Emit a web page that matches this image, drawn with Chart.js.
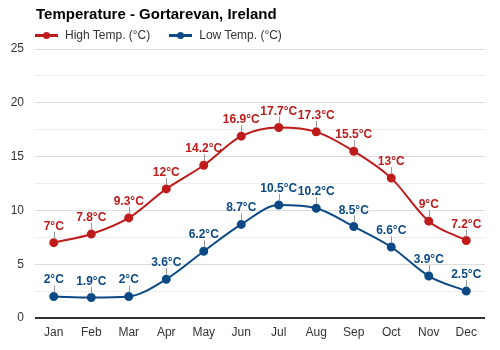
<!DOCTYPE html>
<html>
<head>
<meta charset="utf-8">
<script src="https://cdn.jsdelivr.net/npm/chart.js@4"></script>
<style>
  body { margin: 0; background: #fff; font-family: "Liberation Sans", Arial, sans-serif; }
  #wrap { position: relative; width: 500px; height: 350px; }
  #title { position: absolute; left: 36px; top: 5px; font-size: 15px; font-weight: bold; color: #000; }
  #legend { position: absolute; left: 35px; top: 28px; font-size: 12px; color: #333; display: flex; }
  .item { display: flex; align-items: center; margin-right: 19px; }
  .mark { position: relative; width: 23px; height: 3px; margin-right: 7px; }
  .mark i { position: absolute; left: 8px; top: -2px; width: 7px; height: 7px; border-radius: 50%; }
</style>
</head>
<body>
<div id="wrap">
  <div id="title">Temperature - Gortarevan, Ireland</div>
  <div id="legend"></div>
  <canvas id="chart" width="500" height="350"></canvas>
</div>
<script>
const months = ['Jan', 'Feb', 'Mar', 'Apr', 'May', 'Jun', 'Jul', 'Aug', 'Sep', 'Oct', 'Nov', 'Dec'];
const highTemps = [7, 7.8, 9.3, 12, 14.2, 16.9, 17.7, 17.3, 15.5, 13, 9, 7.2];
const lowTemps = [2, 1.9, 2, 3.6, 6.2, 8.7, 10.5, 10.2, 8.5, 6.6, 3.9, 2.5];
const highColor = '#bf1b1b';
const lowColor = '#0b4a84';

// legend in html
const legend = document.getElementById('legend');
[['High Temp. (°C)', highColor], ['Low Temp. (°C)', lowColor]].forEach(([text, color]) => {
  const item = document.createElement('div');
  item.className = 'item';
  item.innerHTML = '<span class="mark" style="background:' + color + '"><i style="background:' + color + '"></i></span>' + text;
  legend.appendChild(item);
});

// draws the value labels with the little leader lines
const valueLabels = {
  id: 'valueLabels',
  afterDatasetsDraw(chart) {
    const ctx = chart.ctx;
    chart.data.datasets.forEach((ds, i) => {
      const meta = chart.getDatasetMeta(i);
      meta.data.forEach((pt, j) => {
        ctx.save();
        ctx.strokeStyle = '#999';
        ctx.lineWidth = 1;
        ctx.beginPath();
        ctx.moveTo(Math.round(pt.x) + 0.5, pt.y - 4);
        ctx.lineTo(Math.round(pt.x) + 0.5, pt.y - 11);
        ctx.stroke();
        ctx.fillStyle = ds.borderColor;
        ctx.font = 'bold 12px "Liberation Sans", Arial, sans-serif';
        ctx.textAlign = 'center';
        ctx.textBaseline = 'alphabetic';
        ctx.fillText(ds.data[j] + '°C', pt.x, pt.y - 13);
        ctx.restore();
      });
    });
  }
};

const ctx = document.getElementById('chart').getContext('2d');
new Chart(ctx, {
  type: 'line',
  data: {
    labels: months,
    datasets: [
      {
        label: 'High Temp. (°C)',
        data: highTemps,
        borderColor: highColor,
        backgroundColor: highColor,
        borderWidth: 2,
        pointRadius: 3.5,
        cubicInterpolationMode: 'monotone',
        fill: false,
      },
      {
        label: 'Low Temp. (°C)',
        data: lowTemps,
        borderColor: lowColor,
        backgroundColor: lowColor,
        borderWidth: 2,
        pointRadius: 3.5,
        cubicInterpolationMode: 'monotone',
        fill: false,
      },
    ],
  },
  options: {
    responsive: false,
    animation: false,
    layout: { padding: { top: 49, right: 15, left: 0, bottom: 0 } },
    plugins: {
      legend: { display: false },
      tooltip: { enabled: false },
    },
    scales: {
      x: {
        offset: true,
        grid: { display: false, drawTicks: false },
        border: { display: false },
        ticks: { color: '#333', font: { size: 12, family: '"Liberation Sans", Arial' }, padding: 7 },
        afterFit: s => { s.height = 32; },
      },
      y: {
        min: 0,
        max: 25,
        border: { display: false },
        grid: {
          drawTicks: false,
          color: c => c.tick.value === 0 ? '#333' : (c.tick.value % 5 === 0 ? '#ddd' : '#eee'),
          lineWidth: c => c.tick.value === 0 ? 2 : 1,
        },
        ticks: {
          stepSize: 2.5,
          color: '#333',
          padding: 11,
          font: { size: 12, family: '"Liberation Sans", Arial' },
          callback: v => v % 5 === 0 ? v : '',
        },
        afterFit: s => { s.width = 35; },
      },
    },
  },
  plugins: [valueLabels],
});
</script>
</body>
</html>
